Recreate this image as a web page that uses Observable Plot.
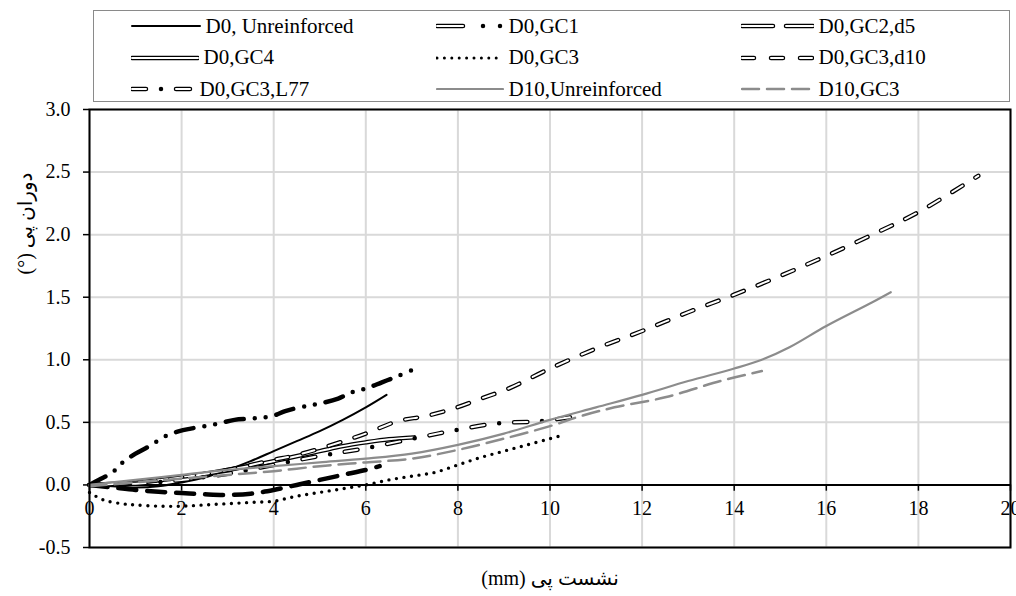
<!DOCTYPE html>
<html>
<head>
<meta charset="utf-8">
<script src="https://cdn.jsdelivr.net/npm/d3@7"></script>
<script src="https://cdn.jsdelivr.net/npm/@observablehq/plot@0.6"></script>
<style>
  body { margin: 0; background: #fff; }
  #wrap { position: relative; width: 1016px; height: 596px; overflow: hidden; font-family: "Liberation Serif", "Times New Roman", serif; }
  #legend { position: absolute; left: 93px; top: 10px; width: 917px; height: 92px; box-sizing: border-box; border: 1.5px solid #8a8a8a; background: #fff; }
  .item { position: absolute; height: 26px; display: flex; align-items: center; font-size: 21px; white-space: nowrap; color: #000; }
  .item svg { display: block; margin-right: 5px; }
  #chart { position: absolute; left: 0; top: 102px; }
</style>
</head>
<body>
<div id="wrap"><div id="legend"></div><div id="chart"></div></div>
<script>
// ---- tick values and titles ----
const xTicks = [0, 2, 4, 6, 8, 10, 12, 14, 16, 18, 20];
const yTicks = [-0.5, 0, 0.5, 1, 1.5, 2, 2.5, 3];
const xTitle = "(mm) نشست پی";
const yTitle = "(°) دوران پی";
const legendLabels = ["D0, Unreinforced", "D0,GC1", "D0,GC2,d5", "D0,GC4", "D0,GC3", "D0,GC3,d10", "D0,GC3,L77", "D10,Unreinforced", "D10,GC3"];

// ---- series values (settlement mm, rotation deg) ----
const d0UnreinforcedX = [0, 0.5, 1, 1.5, 2, 2.5, 3, 3.5, 4, 4.5, 5, 5.5, 6, 6.45];
const d0UnreinforcedY = [0, -0.01, -0.02, -0.01, 0.02, 0.06, 0.12, 0.19, 0.27, 0.35, 0.43, 0.52, 0.62, 0.72];

const d0Gc1X = [0, 0.2, 0.5, 0.72, 1, 1.3, 1.65, 1.95, 2.2, 2.5, 2.8, 3.15, 3.5, 3.8, 4.05, 4.25, 4.7, 5, 5.4, 5.7, 6, 6.35, 6.7, 7.08];
const d0Gc1Y = [0, 0.04, 0.1, 0.18, 0.25, 0.31, 0.39, 0.43, 0.45, 0.47, 0.49, 0.52, 0.53, 0.54, 0.56, 0.59, 0.63, 0.65, 0.69, 0.74, 0.77, 0.82, 0.87, 0.93];

const d0Gc2d5X = [0, 0.5, 1, 1.5, 2, 2.5, 3, 3.5, 4, 4.5, 5, 5.5, 6, 6.3];
const d0Gc2d5Y = [0, -0.02, -0.04, -0.055, -0.065, -0.075, -0.08, -0.07, -0.04, 0, 0.04, 0.08, 0.12, 0.15];

const d0Gc4X = [0, 1, 2, 3, 4, 5, 5.5, 6, 6.5, 7.05];
const d0Gc4Y = [0, 0.02, 0.06, 0.12, 0.19, 0.27, 0.31, 0.34, 0.365, 0.38];

const d0Gc3X = [0, 0.3, 0.7, 1, 1.5, 2, 2.5, 3, 3.5, 4, 4.5, 5, 5.5, 6, 6.5, 7, 7.5, 8, 8.5, 9, 9.5, 10, 10.2];
const d0Gc3Y = [-0.06, -0.12, -0.15, -0.16, -0.17, -0.17, -0.16, -0.15, -0.14, -0.13, -0.09, -0.06, -0.03, 0, 0.04, 0.07, 0.1, 0.16, 0.22, 0.27, 0.32, 0.37, 0.39];

const d0Gc3d10X = [0, 1, 2, 3, 4, 4.4, 5, 5.6, 6, 6.7, 7.3, 7.9, 8.5, 9.1, 10, 11, 12, 13, 14, 15, 16, 17, 18, 19.3];
const d0Gc3d10Y = [0, 0.02, 0.06, 0.12, 0.2, 0.23, 0.29, 0.36, 0.41, 0.51, 0.55, 0.61, 0.69, 0.77, 0.93, 1.09, 1.23, 1.38, 1.52, 1.67, 1.83, 2.0, 2.18, 2.47];

const d0Gc3L77X = [0, 1, 2, 3, 4, 4.97, 5.95, 7.3, 7.84, 8.8, 9.8, 10.6];
const d0Gc3L77Y = [0, 0.01, 0.04, 0.09, 0.16, 0.23, 0.29, 0.39, 0.43, 0.49, 0.51, 0.55];

const d10UnreinforcedX = [0, 1, 2, 3, 4, 5, 6, 7, 8, 9, 10, 11, 12, 13, 14, 14.6, 15.2, 16, 17, 17.4];
const d10UnreinforcedY = [0, 0.04, 0.08, 0.12, 0.15, 0.18, 0.21, 0.25, 0.32, 0.41, 0.52, 0.62, 0.72, 0.83, 0.93, 1.0, 1.1, 1.27, 1.46, 1.54];

const d10Gc3X = [0, 1, 2, 3, 4, 5, 6, 7, 8, 9, 10, 10.67, 11.4, 12.5, 13.7, 14.6];
const d10Gc3Y = [-0.01, 0.02, 0.05, 0.08, 0.11, 0.15, 0.18, 0.21, 0.28, 0.37, 0.47, 0.55, 0.62, 0.7, 0.83, 0.91];

// ---- styles ----
const K = "#000", W = "#fff", G = "#8c8c8c";
const series = [
  { x: d0UnreinforcedX, y: d0UnreinforcedY, chart: [{ s: K, w: 2 }], legend: [{ s: K, w: 2 }], len: 68 },
  { x: d0Gc1X, y: d0Gc1Y, chart: [{ s: K, w: 4.5, d: "18 11 0 11 0 11" }],
    legend: [{ s: K, w: 4.5, d: "26 20 0 17 0 200" }, { s: W, w: 2, d: "26 300" }], len: 66 },
  { x: d0Gc2d5X, y: d0Gc2d5Y, chart: [{ s: K, w: 4.5, d: "18 11" }],
    legend: [{ s: K, w: 4.5, d: "31 13" }, { s: W, w: 2, d: "31 13" }], len: 71 },
  { x: d0Gc4X, y: d0Gc4Y, chart: [{ s: K, w: 4.5 }, { s: W, w: 2 }],
    legend: [{ s: K, w: 4.5 }, { s: W, w: 2 }], len: 66 },
  { x: d0Gc3X, y: d0Gc3Y, chart: [{ s: K, w: 3.4, d: "0 7.6" }],
    legend: [{ s: K, w: 3, d: "0 7.4" }], len: 66 },
  { x: d0Gc3d10X, y: d0Gc3d10Y, chart: [{ s: K, w: 4.5, d: "12 15" }, { s: W, w: 2, d: "12 15" }],
    legend: [{ s: K, w: 4.5, d: "12 17" }, { s: W, w: 2, d: "12 17" }], len: 71 },
  { x: d0Gc3L77X, y: d0Gc3L77Y, chart: [{ s: K, w: 4.5, d: "13 15 0 15" }, { s: W, w: 2, d: "13 30" }],
    legend: [{ s: K, w: 4.5, d: "14 15 0 15 14 200" }, { s: W, w: 2, d: "14 30 14 200" }], len: 62 },
  { x: d10UnreinforcedX, y: d10UnreinforcedY, chart: [{ s: G, w: 2.2 }], legend: [{ s: G, w: 2.2 }], len: 66 },
  { x: d10Gc3X, y: d10Gc3Y, chart: [{ s: G, w: 2.5, d: "17 8" }], legend: [{ s: G, w: 2.5, d: "17 8" }], len: 71 }
];

// ---- legend (HTML above the plot) ----
const colLeft = [36.5, 341.5, 646.5];
const rowTop = [2, 33.5, 65];
const legend = d3.select("#legend");
series.forEach((sr, i) => {
  const item = legend.append("div").attr("class", "item")
    .style("left", colLeft[i % 3] + "px").style("top", rowTop[Math.floor(i / 3)] + "px");
  const svg = item.append("svg").attr("width", sr.len + 2).attr("height", 12);
  sr.legend.forEach(l => {
    svg.append("line").attr("x1", 1).attr("x2", sr.len + 1).attr("y1", 6).attr("y2", 6)
      .attr("stroke", l.s).attr("stroke-width", l.w).attr("stroke-linecap", "round")
      .attr("stroke-dasharray", l.d || null);
  });
  item.append("span").text(legendLabels[i]);
});

// ---- plot ----
const marks = [
  Plot.gridX(xTicks, { stroke: "#d9d9d9", strokeOpacity: 1, strokeWidth: 2 }),
  Plot.gridY(yTicks, { stroke: "#d9d9d9", strokeOpacity: 1, strokeWidth: 2 }),
  Plot.ruleY([0], { stroke: "black", strokeWidth: 2 }),
  Plot.ruleX(xTicks, { x: d => d, y1: 0, y2: -0.05, stroke: "black", strokeWidth: 1.5 }),
  Plot.text(xTicks, { x: d => d, y: 0, dy: 24, text: d => String(d), fontSize: 20 }),
  Plot.axisY(yTicks, { tickFormat: d => d.toFixed(1), tickSize: 6, tickPadding: 13, fontSize: 20, label: null, strokeWidth: 1.5 })
];
series.forEach(sr => {
  const pts = sr.x.map((x, i) => ({ x, y: sr.y[i] }));
  sr.chart.forEach(l => {
    marks.push(Plot.line(pts, {
      x: "x", y: "y", stroke: l.s, strokeWidth: l.w, strokeDasharray: l.d,
      strokeLinecap: "round", strokeLinejoin: "round", curve: "catmull-rom"
    }));
  });
});
marks.push(Plot.frame({ stroke: "black", strokeWidth: 2 }));
marks.push(Plot.text([yTitle], { frameAnchor: "left", text: d => d, rotate: -90, dx: -64, dy: -54, fontSize: 20 }));
marks.push(Plot.text([xTitle], { frameAnchor: "bottom", text: d => d, dy: 37, fontSize: 20 }));

const chart = Plot.plot({
  width: 1016,
  height: 494,
  marginTop: 7,
  marginLeft: 89,
  marginRight: 6,
  marginBottom: 49,
  x: { domain: [0, 20], axis: null },
  y: { domain: [-0.5, 3], axis: null },
  style: { fontFamily: "'Liberation Serif', 'DejaVu Sans', serif", fontSize: "20px", background: "white", overflow: "visible", color: "black" },
  marks
});
document.getElementById("chart").appendChild(chart);
</script>
</body>
</html>
